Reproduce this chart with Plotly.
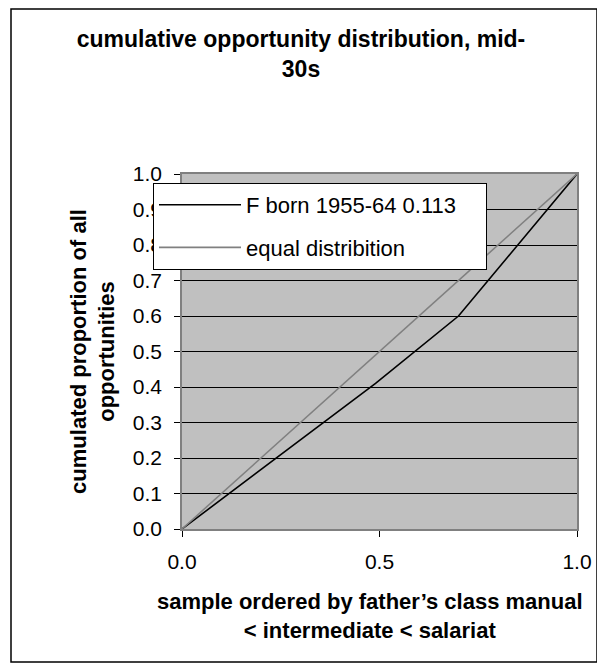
import plotly.graph_objects as go

# Data
cum_sample = [0.0, 0.49, 0.70, 1.0]
cum_opportunity = [0.0, 0.41, 0.60, 1.0]
equal_x = [0.0, 1.0]
equal_y = [0.0, 1.0]
series_name = "F born 1955-64 0.113"
equal_name = "equal distribition"
y_ticks = [0.0, 0.1, 0.2, 0.3, 0.4, 0.5, 0.6, 0.7, 0.8, 0.9, 1.0]
x_ticks = [0.0, 0.5, 1.0]

OFF = 8  # page body margin
W, H = 605 - OFF, 667 - OFF
# plot area in screen pixels
SL, SR, ST, SB = 182, 577, 174, 529
L, R, T, B = SL - OFF, SR - OFF, ST - OFF, SB - OFF
pw, ph = SR - SL, SB - ST

def sx(p):
    return (p - SL) / pw

def sy(p):
    return (SB - p) / ph

FONT = "Liberation Sans, Arial, sans-serif"
PAD = "\u00a0" * 4  # widens the legend box like the reference

fig = go.Figure()
fig.add_trace(go.Scatter(x=cum_sample, y=cum_opportunity, mode="lines", name=series_name + PAD,
                         line=dict(color="#000000", width=1.6), legendgroup="a"))
fig.add_trace(go.Scatter(x=equal_x, y=equal_y, mode="lines", name=equal_name,
                         line=dict(color="#808080", width=1.6), legendgroup="b"))

fig.update_layout(
    width=W, height=H,
    margin=dict(l=L, r=W - R, t=T, b=H - B, autoexpand=False),
    paper_bgcolor="white", plot_bgcolor="#C0C0C0",
    font=dict(family=FONT, size=21, color="black"),
    title=dict(text="<b>cumulative opportunity distribution, mid-<br>30s</b>",
               x=(301 - OFF) / W, xanchor="center", xref="container",
               y=1 - 39 / H, yanchor="middle", yref="container",
               font=dict(size=23, family=FONT, color="black")),
    showlegend=True,
    legend=dict(x=sx(153), y=sy(183), xanchor="left", yanchor="top",
                bgcolor="white", bordercolor="#000000", borderwidth=1,
                tracegroupgap=11, itemwidth=82,
                traceorder="grouped", font=dict(size=22, family=FONT)),
    xaxis=dict(range=[0, 1], tickvals=x_ticks, ticktext=[f"{v:.1f}" for v in x_ticks],
               showgrid=False, zeroline=False, showline=True, linecolor="#808080", linewidth=1.5,
               mirror=True, ticks="outside", ticklen=6, tickcolor="#000000",
               ticklabelstandoff=7, tickfont=dict(size=21)),
    yaxis=dict(range=[0, 1], tickvals=y_ticks, ticktext=[f"{v:.1f}" for v in y_ticks],
               showgrid=True, gridcolor="#000000", gridwidth=1, zeroline=False,
               showline=True, linecolor="#808080", linewidth=1.5, mirror=True,
               ticks="outside", ticklen=6, tickcolor="#000000", ticklabelstandoff=8,
               tickfont=dict(size=21),
               title=dict(text="<b>cumulated proportion of all<br>opportunities</b>",
                          font=dict(size=22), standoff=12)),
    annotations=[
        dict(text="<b>sample ordered by father’s class manual<br>< intermediate < salariat</b>",
             xref="paper", yref="paper", x=sx(370), y=sy(616), xanchor="center", yanchor="middle",
             showarrow=False, font=dict(size=22, family=FONT, color="black")),
    ],
    shapes=[
        dict(type="rect", xref="paper", yref="paper",
             x0=sx(11), x1=sx(597), y0=sy(662), y1=sy(OFF + 1),
             line=dict(color="#000000", width=1.5), fillcolor="rgba(0,0,0,0)", layer="below"),
    ],
)

fig.write_html("out.html")
